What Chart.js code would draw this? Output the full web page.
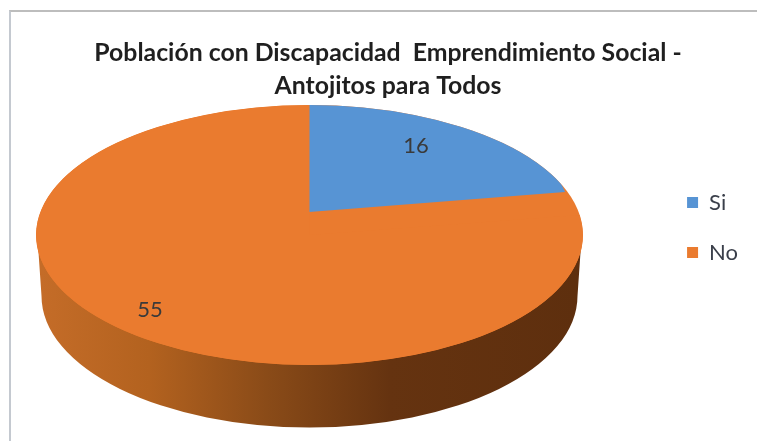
<!DOCTYPE html>
<html>
<head>
<meta charset="utf-8">
<style>
  html, body { margin: 0; padding: 0; background: #fff; overflow: hidden; }
  #frame { position: absolute; left: 9px; top: 10px; right: 0; bottom: 0;
    border-top: 2px solid #bdbdbd; border-left: 2px solid #c4c9d0; }
  canvas { position: absolute; left: 0; top: 0; }
</style>
<script src="https://cdn.jsdelivr.net/npm/chart.js@4"></script>
</head>
<body>
<div id="frame"></div>
<canvas id="pie" width="757" height="441"></canvas>
<script>
(function () {
  "use strict";

  var categories = ["Si", "No"];
  var values = [16, 55];
  var colors = ["#5794d4", "#ea7b2f"];
  var titleLines = ["Población con Discapacidad  Emprendimiento Social -", "Antojitos para Todos"];

  // fake 3d: where the top face and the bottom rim of the pie sit on the page
  var top3d = { x: 309.5, y: 235, rx: 273.5, ry: 130 };
  var bottom3d = { x: 309.5, y: 296, rx: 268, ry: 131.5 };
  var apex = { x: 309, y: 212 };
  var labelSpots = [[416, 146], [150, 310]];

  function ellipsePath(ctx, e) {
    ctx.beginPath();
    ctx.ellipse(e.x, e.y, e.rx, e.ry, 0, 0, Math.PI * 2);
  }

  function drawWall(ctx) {
    var g = ctx.createLinearGradient(bottom3d.x - bottom3d.rx, 0, bottom3d.x + bottom3d.rx, 0);
    g.addColorStop(0, "#c46c28");
    g.addColorStop(0.2, "#b3621f");
    g.addColorStop(0.42, "#8a4b18");
    g.addColorStop(0.65, "#653310");
    g.addColorStop(1, "#5e2f0e");
    ctx.fillStyle = g;
    ctx.beginPath();
    ctx.moveTo(top3d.x - top3d.rx + 2, top3d.y + 10);
    ctx.lineTo(bottom3d.x - bottom3d.rx, bottom3d.y);
    ctx.ellipse(bottom3d.x, bottom3d.y, bottom3d.rx, bottom3d.ry, 0, Math.PI, 0, true);
    ctx.lineTo(top3d.x + top3d.rx - 2, top3d.y + 10);
    ctx.closePath();
    ctx.fill();
    // rest of the top face, the part the blue slice leaves open
    ctx.fillStyle = colors[1];
    ellipsePath(ctx, top3d);
    ctx.fill();
  }

  // each arc gets its own matrix, the blue slice has its tip off centre
  function wrapArc(arc, i) {
    if (arc._wrapped) return;
    arc._wrapped = true;
    var orig = arc.draw;
    arc.draw = function (ctx, area) {
      var r = arc.outerRadius;
      ctx.save();
      ellipsePath(ctx, top3d);
      ctx.clip();
      if (i === 0) {
        var end = arc.endAngle;
        var ex = Math.cos(end), ey = Math.sin(end);
        var a = (565 - apex.x) / ex / r;
        var d = (apex.y - 105) / r;
        var b = ((192 - apex.y) - d * r * ey) / ex / r;
        ctx.translate(apex.x, apex.y);
        ctx.transform(a, b, 0, d, 0, 0);
      } else {
        ctx.translate(top3d.x, top3d.y);
        ctx.scale(top3d.rx / r, top3d.ry / r);
      }
      ctx.translate(-arc.x, -arc.y);
      orig.call(arc, ctx, area);
      ctx.restore();
    };
  }

  var pie3d = {
    id: "pie3d",
    beforeDatasetsDraw: function (chart) {
      drawWall(chart.ctx);
      chart.getDatasetMeta(0).data.forEach(wrapArc);
    },
    afterDatasetsDraw: function (chart) {
      var ctx = chart.ctx;
      ctx.save();
      ctx.font = "22px Lato";
      ctx.fillStyle = "#3a3a3a";
      ctx.textAlign = "center";
      ctx.textBaseline = "middle";
      values.forEach(function (v, i) {
        ctx.fillText(String(v), labelSpots[i][0], labelSpots[i][1]);
      });
      ctx.restore();
    }
  };

  new Chart(document.getElementById("pie"), {
    type: "pie",
    data: {
      labels: categories,
      datasets: [{ data: values, backgroundColor: colors, borderWidth: 0, clip: false }]
    },
    options: {
      responsive: false,
      animation: false,
      layout: { padding: { left: 28, right: 9, top: 36, bottom: 22 } },
      plugins: {
        tooltip: { enabled: false },
        title: {
          display: true,
          text: titleLines,
          color: "#1f1f1f",
          font: { family: "Lato", size: 24.8, weight: "bold", lineHeight: 1.34 },
          padding: { top: 0, bottom: 0 }
        },
        legend: {
          position: "right",
          labels: {
            boxWidth: 11,
            boxHeight: 11,
            padding: 28,
            color: "#3a3f4a",
            font: { family: "Lato", size: 22 }
          }
        }
      }
    },
    plugins: [pie3d]
  });
})();
</script>
</body>
</html>
